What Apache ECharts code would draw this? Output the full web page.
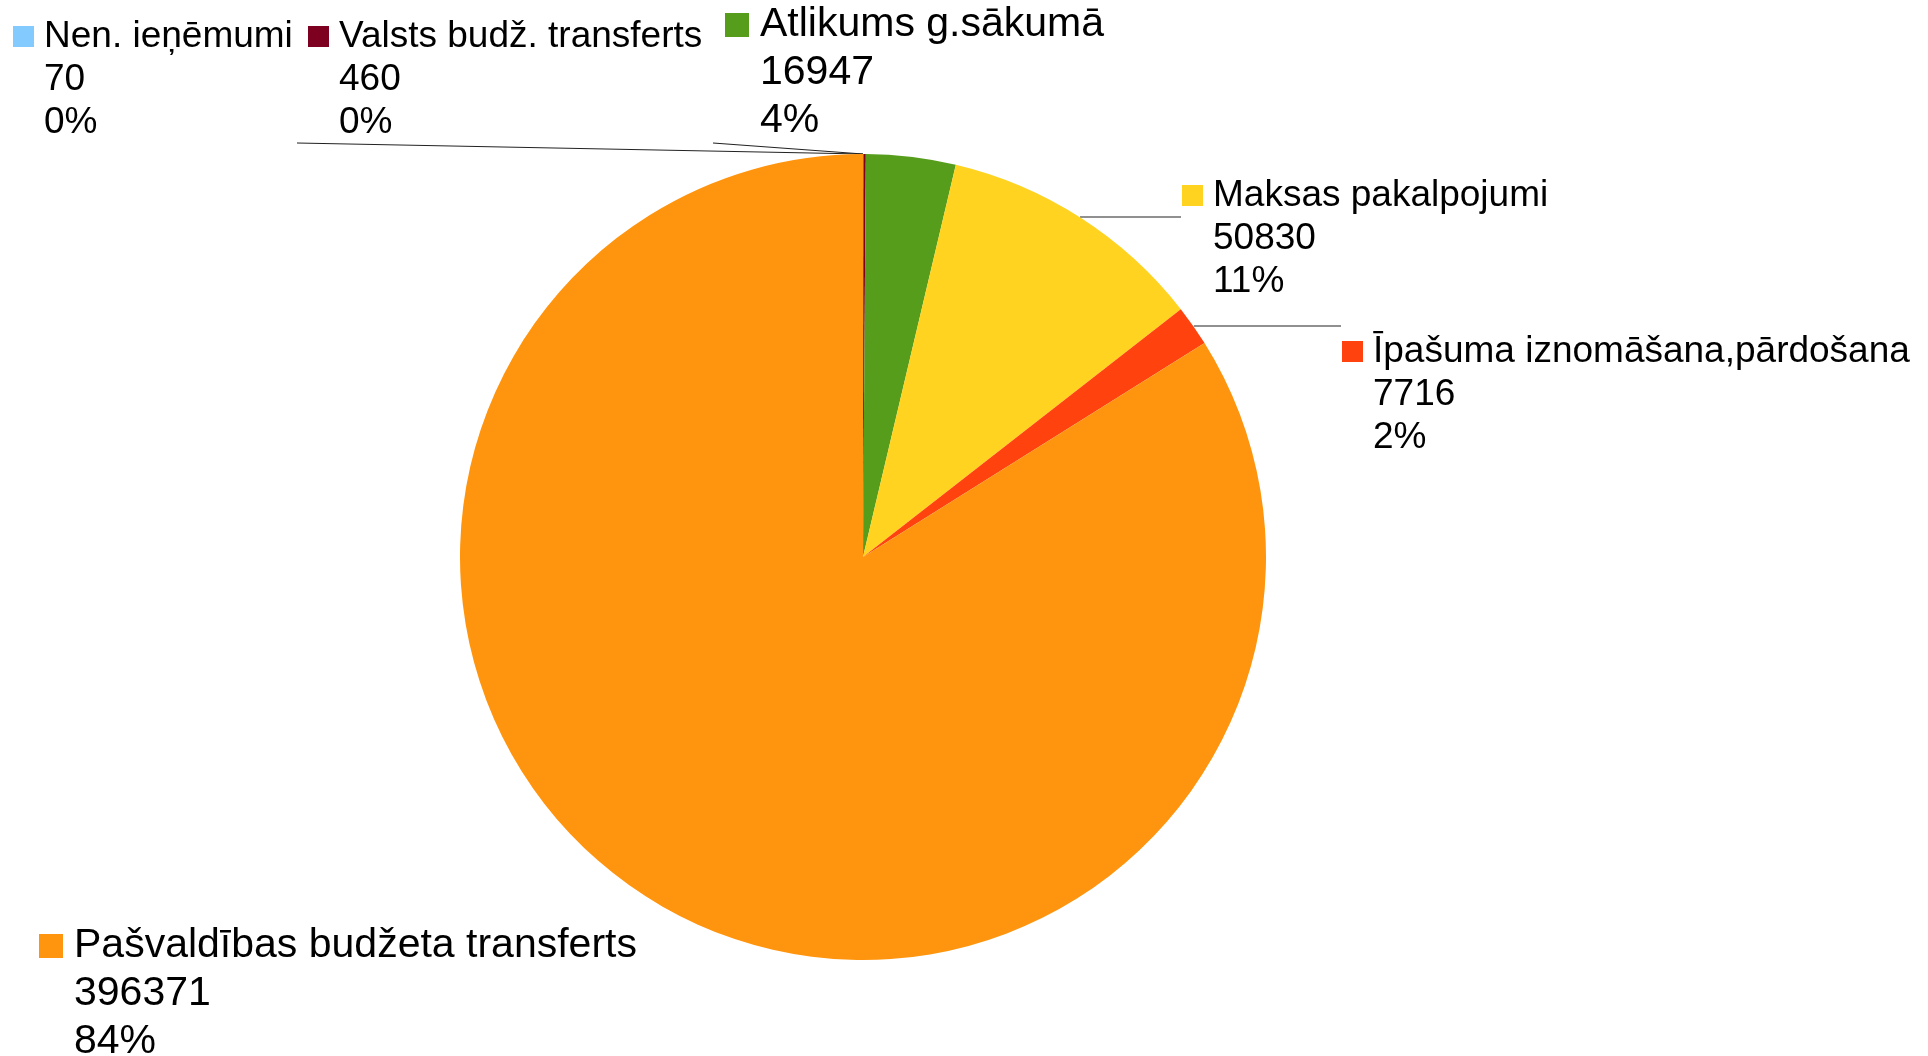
<!DOCTYPE html>
<html>
<head>
<meta charset="utf-8">
<title>Ieņēmumi</title>
<script src="https://cdn.jsdelivr.net/npm/echarts@6/dist/echarts.min.js"></script>
<style>
  html, body { margin: 0; padding: 0; background: #fff; }
  #myChart { width: 1928px; height: 1056px; }
</style>
</head>
<body>
<div id="myChart"></div>
<script>
// dati
const categories = [
  'Nen. ieņēmumi',
  'Valsts budž. transferts',
  'Atlikums g.sākumā',
  'Maksas pakalpojumi',
  'Īpašuma iznomāšana,pārdošana',
  'Pašvaldības budžeta transferts'
];
const values = [70, 460, 16947, 50830, 7716, 396371];
const colors = ['#83caff', '#7e0021', '#579d1c', '#ffd320', '#ff420e', '#ff950e'];
// labels drawn with the bigger font
const bigLabel = [false, false, true, false, false, true];

// label block (left, top) and leader lines
const labelPos = [[13, 15], [308, 15], [725, 1], [1182, 174], [1342, 330], [39, 922]];
const leaderLines = [
  [[297, 143], [297, 143], [863, 154]],
  [[713, 143], [713, 143], [863, 154]],
  null,
  [[1080, 217], [1080, 217], [1181, 217]],
  [[1194, 326], [1194, 326], [1341, 326]],
  null
];

const total = values.reduce((a, b) => a + b, 0);
const font = 'Liberation Sans, Arial, sans-serif';

const rich = {
  ns: { fontSize: 37, lineHeight: 43, color: '#000', fontFamily: font },
  nb: { fontSize: 41, lineHeight: 48, color: '#000', fontFamily: font },
  gs: { width: 10 },
  gb: { width: 11 },
  ps: { width: 31 },
  pb: { width: 35 }
};
colors.forEach((c, i) => {
  const s = bigLabel[i] ? 24 : 21;
  rich['m' + i] = { width: s, height: s, backgroundColor: c };
});

const myChart = echarts.init(document.getElementById('myChart'));
myChart.setOption({
  animation: false,
  color: colors,
  series: [{
    type: 'pie',
    center: [863, 557],
    radius: 403,
    startAngle: 90,
    clockwise: true,
    avoidLabelOverlap: false,
    itemStyle: { borderWidth: 0 },
    emphasis: { disabled: true },
    label: {
      show: true,
      position: 'outside',
      formatter: function (p) {
        const i = p.dataIndex;
        const k = bigLabel[i] ? 'b' : 's';
        const pct = Math.round(p.value / total * 100);
        return '{m' + i + '|}{g' + k + '|}{n' + k + '|' + p.name + '}\n' +
          '{p' + k + '|}{n' + k + '|' + p.value + '}\n' +
          '{p' + k + '|}{n' + k + '|' + pct + '%}';
      },
      rich: rich
    },
    labelLine: {
      show: true,
      lineStyle: { color: '#222', width: 1.2 }
    },
    labelLayout: function (params) {
      const i = params.dataIndex;
      const out = {
        x: labelPos[i][0],
        y: labelPos[i][1],
        align: 'left',
        verticalAlign: 'top'
      };
      if (leaderLines[i]) {
        out.labelLinePoints = leaderLines[i];
      }
      return out;
    },
    data: categories.map((name, i) => ({
      name: name,
      value: values[i],
      labelLine: { show: leaderLines[i] !== null }
    }))
  }]
});
</script>
</body>
</html>
